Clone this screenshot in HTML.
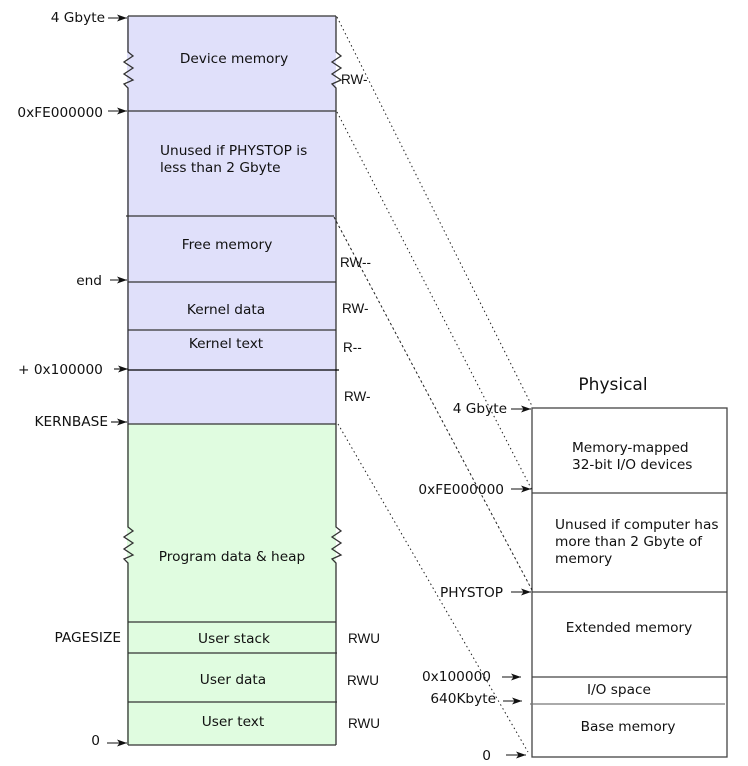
<!DOCTYPE html>
<html><head><meta charset="utf-8"><style>
html,body{margin:0;padding:0;background:#fff;}
svg{display:block;}
text{font-family:"DejaVu Sans",sans-serif;font-size:13.7px;fill:#111;}
.a{font-family:"Liberation Sans",sans-serif;font-size:13.5px;}
</style></head><body>
<svg width="748" height="766" viewBox="0 0 748 766" xmlns="http://www.w3.org/2000/svg">
<defs><marker id="ar" markerWidth="10" markerHeight="7" refX="10" refY="3.5" orient="auto" markerUnits="userSpaceOnUse"><path d="M0,0 L10,3.5 L0,7 L2.5,3.5 z" fill="#111"/></marker></defs>
<rect x="127" y="16" width="209" height="408" fill="#e0e0fa"/>
<rect x="127" y="424" width="209" height="321" fill="#e0fce0"/>
<g stroke="#333" stroke-width="1.3" fill="none">
<path d="M128,16 L128,52 L133,56 L124,62 L133,68 L124,74 L133,80 L124,84 L128,88 L128,527 L133,531 L124,537 L133,543 L124,549 L133,555 L124,559 L128,563 L128,745"/>
<path d="M336,16 L336,52 L341,56 L332,62 L341,68 L332,74 L341,80 L332,84 L336,88 L336,527 L341,531 L332,537 L341,543 L332,549 L341,555 L332,559 L336,563 L336,745"/>
<line x1="128" y1="16" x2="336" y2="16"/>
<line x1="128" y1="745" x2="336" y2="745"/>
<line x1="128" y1="111" x2="336" y2="111"/>
<line x1="126" y1="216" x2="334" y2="216"/>
<line x1="128" y1="282" x2="336" y2="282"/>
<line x1="128" y1="330" x2="336" y2="330"/>
<line x1="128" y1="370" x2="339" y2="370" stroke="#000"/>
<line x1="128" y1="424" x2="336" y2="424"/>
<line x1="128" y1="622" x2="336" y2="622"/>
<line x1="128" y1="653" x2="337" y2="653"/>
<line x1="128" y1="702" x2="337" y2="702"/>
</g>
<g stroke="#444" stroke-width="1.3" fill="none">
<rect x="532" y="408" width="195" height="349"/>
<line x1="532" y1="493" x2="727" y2="493"/>
<line x1="532" y1="592" x2="727" y2="592"/>
<line x1="532" y1="677" x2="727" y2="677"/>
<line x1="530" y1="704" x2="725" y2="704" stroke="#777"/>
</g>
<g stroke="#222" stroke-width="1" stroke-dasharray="1.5,3" fill="none">
<line x1="337" y1="17" x2="532" y2="406"/>
<line x1="337" y1="112" x2="532" y2="490"/>
<line x1="334" y1="217" x2="532" y2="590" stroke-dasharray="2.5,2.5"/>
<line x1="338" y1="424" x2="528" y2="752"/>
</g>
<g stroke="#111" stroke-width="1.1" marker-end="url(#ar)">
<line x1="108" y1="18" x2="127" y2="18"/>
<line x1="108" y1="111" x2="127" y2="111"/>
<line x1="110" y1="280" x2="127" y2="280"/>
<line x1="114" y1="369" x2="128" y2="369"/>
<line x1="111" y1="422" x2="127" y2="422"/>
<line x1="107" y1="743" x2="127" y2="743"/>
<line x1="511" y1="409" x2="531" y2="409"/>
<line x1="511" y1="489" x2="531" y2="489"/>
<line x1="511" y1="592" x2="531" y2="592"/>
<line x1="502" y1="677" x2="521" y2="677"/>
<line x1="503" y1="701" x2="522" y2="701"/>
<line x1="506" y1="755" x2="526" y2="755"/>
</g>
<text x="105" y="22" text-anchor="end">4 Gbyte</text>
<text x="103" y="117" text-anchor="end">0xFE000000</text>
<text x="102" y="285" text-anchor="end">end</text>
<text x="18" y="374">+ 0x100000</text>
<text x="108" y="426" text-anchor="end">KERNBASE</text>
<text x="121" y="642" text-anchor="end">PAGESIZE</text>
<text x="100" y="745" text-anchor="end">0</text>
<text x="234" y="63" text-anchor="middle">Device memory</text>
<text x="160" y="155">Unused if PHYSTOP is</text>
<text x="160" y="172">less than 2 Gbyte</text>
<text x="227" y="249" text-anchor="middle">Free memory</text>
<text x="226" y="314" text-anchor="middle">Kernel data</text>
<text x="226" y="348" text-anchor="middle">Kernel text</text>
<text x="232" y="561" text-anchor="middle">Program data &amp; heap</text>
<text x="234" y="643" text-anchor="middle">User stack</text>
<text x="233" y="684" text-anchor="middle">User data</text>
<text x="233" y="726" text-anchor="middle">User text</text>
<text class="a" x="341" y="84">RW-</text>
<text class="a" x="340" y="267">RW--</text>
<text class="a" x="342" y="313">RW-</text>
<text class="a" x="343" y="352">R--</text>
<text class="a" x="344" y="401">RW-</text>
<text class="a" x="348" y="643">RWU</text>
<text class="a" x="347" y="685">RWU</text>
<text class="a" x="348" y="728">RWU</text>
<text x="613" y="390" text-anchor="middle" style="font-size:17px">Physical</text>
<text x="507" y="413" text-anchor="end">4 Gbyte</text>
<text x="504" y="494" text-anchor="end">0xFE000000</text>
<text x="503" y="597" text-anchor="end">PHYSTOP</text>
<text x="491" y="681" text-anchor="end">0x100000</text>
<text x="496" y="703" text-anchor="end">640Kbyte</text>
<text x="491" y="760" text-anchor="end">0</text>
<text x="572" y="452">Memory-mapped</text>
<text x="572" y="469">32-bit I/O devices</text>
<text x="555" y="529">Unused if computer has</text>
<text x="555" y="546">more than 2 Gbyte of</text>
<text x="555" y="563">memory</text>
<text x="629" y="632" text-anchor="middle">Extended memory</text>
<text x="619" y="694" text-anchor="middle">I/O space</text>
<text x="628" y="731" text-anchor="middle">Base memory</text>
</svg>
</body></html>
